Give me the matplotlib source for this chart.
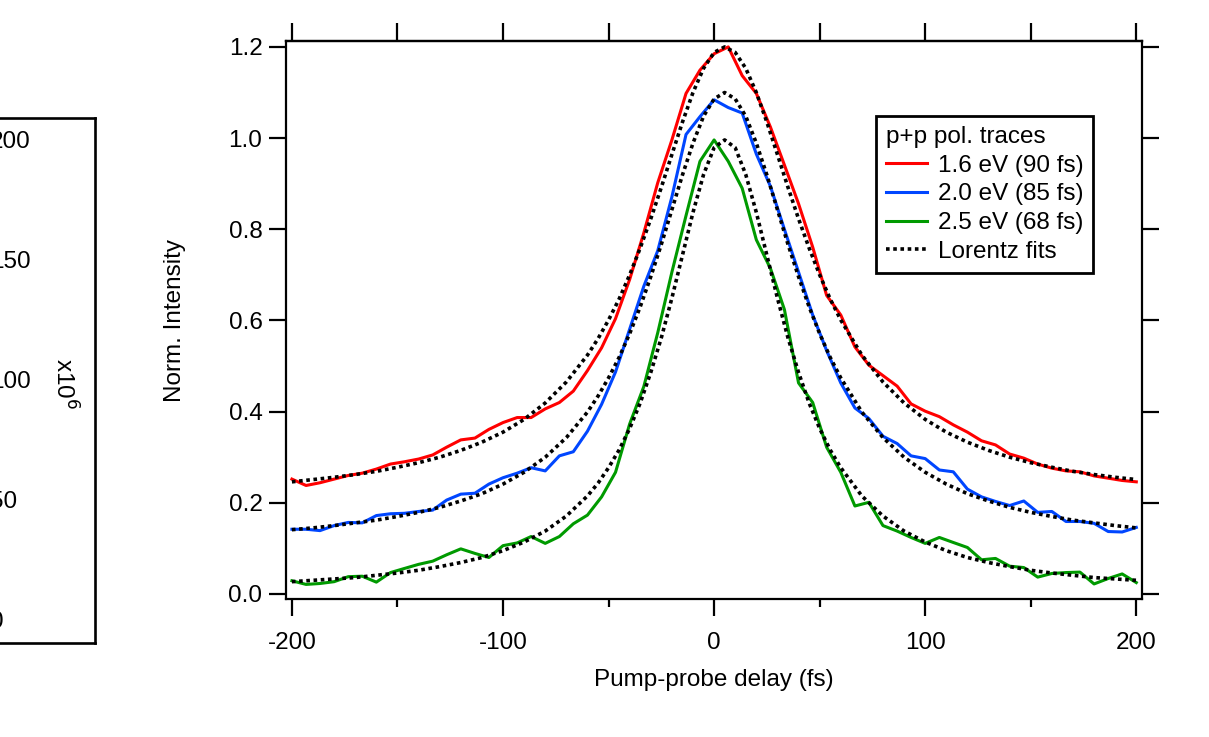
import numpy as np
import matplotlib
matplotlib.use('Agg')
import matplotlib.pyplot as plt
from matplotlib.ticker import MultipleLocator, FormatStrFormatter

plt.rcParams['font.family'] = ['Liberation Sans', 'DejaVu Sans']
plt.rcParams['font.size'] = 17.5
plt.rcParams['axes.unicode_minus'] = False

# pump-probe delay of the measured traces (fs)
delay = [-200.0, -193.3, -186.7, -180.0, -173.3, -166.7, -160.0, -153.3, -146.7, -140.0,
         -133.3, -126.7, -120.0, -113.3, -106.7, -100.0, -93.3, -86.7, -80.0, -73.3,
         -66.7, -60.0, -53.3, -46.7, -40.0, -33.3, -26.7, -20.0, -13.3, -6.7,
         0.0, 6.7, 13.3, 20.0, 26.7, 33.3, 40.0, 46.7, 53.3, 60.0,
         66.7, 73.3, 80.0, 86.7, 93.3, 100.0, 106.7, 113.3, 120.0, 126.7,
         133.3, 140.0, 146.7, 153.3, 160.0, 166.7, 173.3, 180.0, 186.7, 193.3, 200.0]

trace_16 = [0.252, 0.238, 0.244, 0.252, 0.260, 0.265, 0.274, 0.285, 0.290, 0.296,
            0.305, 0.322, 0.338, 0.342, 0.361, 0.376, 0.387, 0.387, 0.406, 0.420,
            0.445, 0.490, 0.540, 0.604, 0.690, 0.792, 0.902, 0.996, 1.098, 1.149,
            1.185, 1.200, 1.137, 1.098, 1.024, 0.941, 0.856, 0.761, 0.655, 0.612,
            0.542, 0.502, 0.479, 0.456, 0.417, 0.401, 0.389, 0.371, 0.355, 0.336,
            0.327, 0.307, 0.298, 0.285, 0.276, 0.270, 0.268, 0.259, 0.254, 0.249, 0.246]

trace_20 = [0.142, 0.142, 0.139, 0.150, 0.157, 0.156, 0.172, 0.176, 0.177, 0.181,
            0.184, 0.206, 0.219, 0.221, 0.241, 0.255, 0.265, 0.277, 0.270, 0.303,
            0.312, 0.357, 0.416, 0.487, 0.581, 0.675, 0.753, 0.871, 1.008, 1.047,
            1.084, 1.067, 1.055, 0.965, 0.894, 0.800, 0.706, 0.612, 0.534, 0.463,
            0.408, 0.385, 0.346, 0.330, 0.303, 0.297, 0.272, 0.268, 0.230, 0.213,
            0.203, 0.194, 0.204, 0.179, 0.181, 0.159, 0.159, 0.155, 0.137, 0.136, 0.146]

trace_25 = [0.029, 0.021, 0.023, 0.027, 0.038, 0.039, 0.026, 0.047, 0.056, 0.065,
            0.072, 0.086, 0.099, 0.089, 0.080, 0.106, 0.112, 0.126, 0.111, 0.126,
            0.154, 0.173, 0.213, 0.267, 0.373, 0.455, 0.573, 0.706, 0.830, 0.949,
            0.996, 0.949, 0.890, 0.777, 0.714, 0.624, 0.463, 0.420, 0.322, 0.267,
            0.193, 0.201, 0.150, 0.138, 0.124, 0.111, 0.124, 0.113, 0.102, 0.075,
            0.078, 0.061, 0.058, 0.037, 0.045, 0.047, 0.048, 0.022, 0.034, 0.044, 0.025]

# Lorentz fit curves
fit_delay = [-200, -190, -180, -170, -160, -150, -140, -130, -120, -110, -100, -90, -80, -70, -60,
             -55, -50, -45, -40, -35, -30, -25, -20, -15, -10, -5, 0, 5, 10, 15, 20, 25, 30, 35, 40, 45, 50, 55,
             60, 70, 80, 90, 100, 110, 120, 130, 140, 150, 160, 170, 180, 190, 200]

fit_16 = [0.246, 0.251, 0.256, 0.262, 0.269, 0.278, 0.288, 0.300, 0.315, 0.333, 0.355, 0.383, 0.419, 0.465, 0.524,
          0.560, 0.601, 0.647, 0.700, 0.759, 0.823, 0.892, 0.964, 1.035, 1.100, 1.153, 1.188, 1.200,
          1.188, 1.153, 1.100, 1.035, 0.964, 0.892, 0.823, 0.759, 0.700, 0.647,
          0.601, 0.524, 0.465, 0.419, 0.383, 0.355, 0.333, 0.315, 0.300, 0.288, 0.278, 0.269, 0.262, 0.256, 0.251]

fit_20 = [0.141, 0.145, 0.150, 0.156, 0.162, 0.170, 0.179, 0.190, 0.204, 0.220, 0.241, 0.267, 0.300, 0.343, 0.399,
          0.434, 0.474, 0.519, 0.571, 0.630, 0.696, 0.767, 0.843, 0.919, 0.989, 1.048, 1.086, 1.100,
          1.086, 1.048, 0.989, 0.919, 0.843, 0.767, 0.696, 0.630, 0.571, 0.519,
          0.474, 0.399, 0.343, 0.300, 0.267, 0.241, 0.220, 0.204, 0.190, 0.179, 0.170, 0.162, 0.156, 0.150, 0.145]

fit_25 = [0.027, 0.030, 0.033, 0.036, 0.041, 0.046, 0.052, 0.060, 0.069, 0.080, 0.095, 0.114, 0.138, 0.171, 0.215,
          0.243, 0.277, 0.316, 0.363, 0.419, 0.486, 0.562, 0.649, 0.743, 0.837, 0.920, 0.979, 0.996,
          0.979, 0.920, 0.837, 0.743, 0.649, 0.562, 0.486, 0.419, 0.363, 0.316,
          0.277, 0.215, 0.171, 0.138, 0.114, 0.095, 0.080, 0.069, 0.060, 0.052, 0.046, 0.041, 0.036, 0.033, 0.030]

labels = ['1.6 eV (90 fs)', '2.0 eV (85 fs)', '2.5 eV (68 fs)']
colors = ['#ff0000', '#0046ff', '#009a00']

# partial panel on the left (colour scale, cut by the figure edge)
scale_values = [200, 150, 100, 50, 0]

W, H = 1209, 737
fig = plt.figure(figsize=(W / 100, H / 100), dpi=100)

ax2 = fig.add_axes([-50 / W, 1 - 643 / H, 145 / W, 525 / H])
ax2.set_xticks([])
ax2.set_yticks([])
ax2.set_ylim(-8.75, 210)
for s in ax2.spines.values():
    s.set_linewidth(1.9)
for v in scale_values:
    ax2.text(40 / 145, v, str(v), transform=ax2.get_yaxis_transform(),
             ha='left', va='center', fontsize=17.5)
fig.text(64 / W, 1 - 383 / H, 'x10$^{6}$', rotation=-90, ha='center', va='center', fontsize=17.5)

# main panel
ax = fig.add_axes([286 / W, 1 - 599 / H, 856 / W, 558 / H])
handles = []
for y, c, lab in zip([trace_16, trace_20, trace_25], colors, labels):
    h, = ax.plot(delay, y, color=c, lw=2.2, label=lab)
    handles.append(h)
for i, f in enumerate([fit_16, fit_20, fit_25]):
    h, = ax.plot(fit_delay, f, color='k', lw=2.6, ls=(0, (1, 1)), label='Lorentz fits')
    if i == 0:
        handles.append(h)

ax.set_xlim(-202.8, 202.7)
ax.set_ylim(-0.011, 1.213)
ax.xaxis.set_major_locator(MultipleLocator(100))
ax.xaxis.set_minor_locator(MultipleLocator(50))
ax.yaxis.set_major_locator(MultipleLocator(0.2))
ax.yaxis.set_major_formatter(FormatStrFormatter('%.1f'))
ax.tick_params(axis='x', which='major', direction='out', length=12, width=1.6, pad=12)
ax.tick_params(axis='x', which='minor', direction='out', length=6, width=1.6)
ax.tick_params(axis='y', which='major', direction='out', length=12, width=1.6, pad=5,
               right=True, labelright=False)
for s in ax.spines.values():
    s.set_linewidth(1.6)

secax = ax.secondary_xaxis('top')
top_ticks = np.arange(-200, 201, 50)
secax.set_xticks(top_ticks, labels=[''] * len(top_ticks))
secax.tick_params(direction='out', length=13, width=1.6)
secax.spines['top'].set_linewidth(1.6)

ax.set_xlabel('Pump-probe delay (fs)')
ax.xaxis.set_label_coords(0.5, (599 - 669) / 558)
ax.set_ylabel('Norm. Intensity')
ax.yaxis.set_label_coords((186 - 286) / 856, 0.5)

leg = ax.legend(handles=handles, loc='upper left', bbox_to_anchor=(876 / W, 1 - 116 / H),
                bbox_transform=fig.transFigure, title='p+p pol. traces', alignment='left',
                frameon=True, fancybox=False, edgecolor='k', framealpha=1, borderpad=0.4,
                handlelength=1.7, handletextpad=0.45, labelspacing=0.28, borderaxespad=0,
                title_fontsize=17.5, fontsize=17.5)
leg.get_frame().set_linewidth(2)

fig.savefig('out.png', dpi=100)
